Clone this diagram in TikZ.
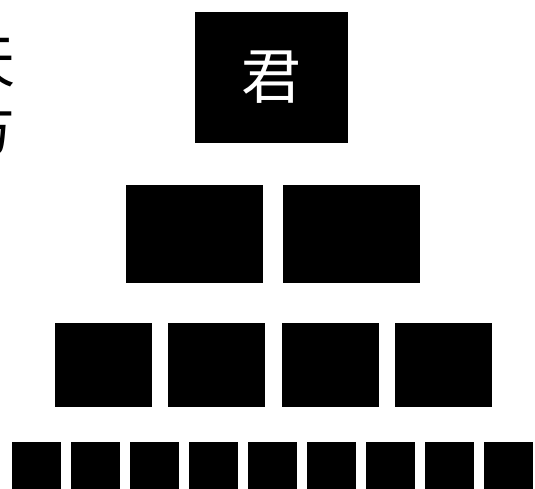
\documentclass[tikz,border=0pt]{standalone}
\usepackage{fontspec}
\newfontfamily\cjk{Noto Sans CJK SC}
\begin{document}
\begin{tikzpicture}[x=1pt,y=-1pt,
  blk/.style={fill=black,draw=none,inner sep=0pt,outer sep=0pt},
  side/.style={inner sep=0pt,outer sep=0pt,font=\cjk\fontsize{58}{68}\selectfont,text=black,align=right}]
\useasboundingbox (0,0) rectangle (535,488);
\clip (0,0) rectangle (535,488);
% top
\node[blk,minimum width=153pt,minimum height=131pt,text=white,font=\cjk\fontsize{60}{60}\selectfont] (jun) at (271.5,77.5) {君};
% row 2
\foreach \i/\x in {1/194.5,2/351.5}
  \node[blk,minimum width=137pt,minimum height=98pt] (r2\i) at (\x,234) {};
% row 3
\foreach \i/\x in {1/103,2/216,3/330,4/443.5}
  \node[blk,minimum width=97pt,minimum height=84pt] (r3\i) at (\x,365) {};
% row 4
\foreach \i/\x in {1/36,2/95,3/154,4/213,5/272,6/331,7/390,8/449,9/508}
  \node[blk,minimum width=49pt,minimum height=60pt] (r4\i) at (\x,472) {};
% side text (clipped at the left edge, as in the reference)
\node[side,anchor=north east] (txt) at (16,38) {天\\方};
\end{tikzpicture}
\end{document}
